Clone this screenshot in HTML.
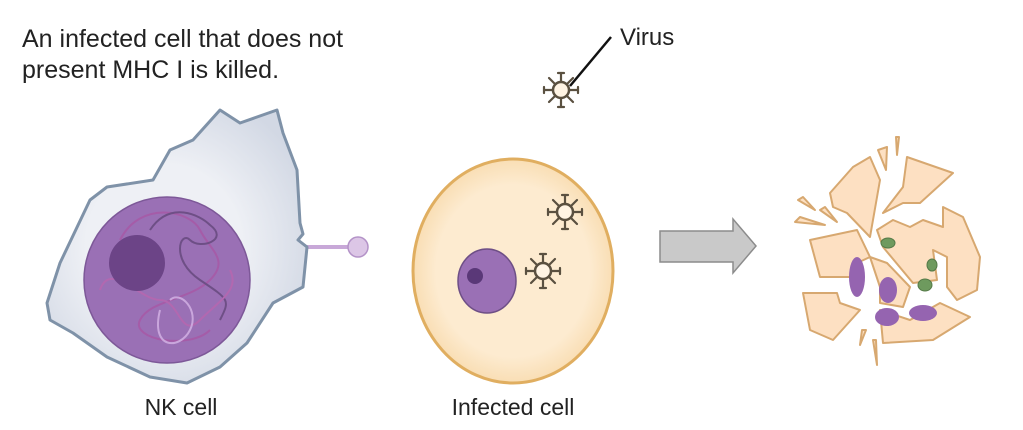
<!DOCTYPE html>
<html><head><style>
html,body{margin:0;padding:0;background:#fff;}
svg{display:block;}
text{font-family:"Liberation Sans",sans-serif;fill:#222;}
</style></head><body>
<svg width="1023" height="430" viewBox="0 0 1023 430" xmlns="http://www.w3.org/2000/svg">
<defs>
<radialGradient id="nkg" cx="0.45" cy="0.5" r="0.6"><stop offset="0.5" stop-color="#eef0f5"/><stop offset="1" stop-color="#d2d8e4"/></radialGradient>
<radialGradient id="icg" cx="0.5" cy="0.5" r="0.55"><stop offset="0.7" stop-color="#fdebd0"/><stop offset="1" stop-color="#f7d8a8"/></radialGradient>
<g id="vir">
<g stroke="#5a5040" stroke-width="2.2" stroke-linecap="round">
<line x1="0" y1="-8" x2="0" y2="-17"/><line x1="0" y1="8" x2="0" y2="17"/>
<line x1="-8" y1="0" x2="-17" y2="0"/><line x1="8" y1="0" x2="17" y2="0"/>
<line x1="6" y1="6" x2="12" y2="12"/><line x1="-6" y1="6" x2="-12" y2="12"/>
<line x1="6" y1="-6" x2="12" y2="-12"/><line x1="-6" y1="-6" x2="-12" y2="-12"/>
<line x1="-3" y1="-17" x2="3" y2="-17"/><line x1="-3" y1="17" x2="3" y2="17"/>
<line x1="-17" y1="-3" x2="-17" y2="3"/><line x1="17" y1="-3" x2="17" y2="3"/>
</g>
<circle r="8" fill="#fff4e4" stroke="#5a5040" stroke-width="2.5"/>
</g>
</defs>

<text x="22" y="47" font-size="25">An infected cell that does not</text>
<text x="22" y="78" font-size="25">present MHC I is killed.</text>

<!-- NK cell -->
<line x1="303" y1="247" x2="352" y2="247" stroke="#c8a8d8" stroke-width="4"/>
<circle cx="358" cy="247" r="10" fill="#dcc6e6" stroke="#b493c8" stroke-width="1.5"/>
<path d="M47,303 L60,263 L90,200 L107,187 L153,180 L170,150 L193,140 L220,110 L240,123 L277,110 L283,133 L297,170 L300,223 L303,234 L298,240 L307,247 L303,287 L273,303 L247,343 L220,367 L187,383 L150,377 L107,357 L73,333 L50,320 Z" fill="url(#nkg)" stroke="#7f92a8" stroke-width="3" stroke-linejoin="round"/>
<circle cx="167" cy="280" r="83" fill="#9a70b5" stroke="#7d5898" stroke-width="1.5"/>
<g fill="none" stroke-width="2">
<path d="M120,240 C140,200 190,210 200,230 S230,260 210,280 S150,300 140,320 S190,350 210,330" stroke="#a55ca8"/>
<path d="M150,230 C170,200 200,215 210,225 C230,240 200,250 190,240 S170,260 200,280 S230,300 220,320" stroke="#6e4f86"/>
<path d="M100,290 C110,260 140,300 160,300 S180,340 200,320 S240,290 230,270" stroke="#b268b0"/>
<path d="M170,300 C180,290 200,310 190,330 S150,350 160,310" stroke="#c9a6dc"/>
</g>
<circle cx="137" cy="263" r="28" fill="#6c4487"/>

<!-- Infected cell -->
<ellipse cx="513" cy="271" rx="100" ry="112" fill="url(#icg)" stroke="#e0ae60" stroke-width="3"/>
<ellipse cx="487" cy="281" rx="29" ry="32" fill="#9a70b5" stroke="#6e4f86" stroke-width="1.5"/>
<circle cx="475" cy="276" r="8" fill="#5a3878"/>
<use href="#vir" x="565" y="212"/>
<use href="#vir" x="543" y="271"/>
<use href="#vir" x="561" y="90"/>
<line x1="570" y1="86" x2="611" y2="37" stroke="#111" stroke-width="2.5"/>
<text x="620" y="45" font-size="24">Virus</text>

<!-- Arrow -->
<path d="M660,231 L733,231 L733,219 L756,246 L733,273 L733,262 L660,262 Z" fill="#c9c9c9" stroke="#8c8c8c" stroke-width="1.5"/>

<!-- Debris -->
<g fill="#fde0c2" stroke="#d7a870" stroke-width="2" stroke-linejoin="round">
<path d="M830,193 L853,167 L870,157 L880,180 L870,237 L847,213 L833,207 Z"/>
<path d="M883,213 L903,187 L907,157 L953,173 L920,203 L903,203 Z"/>
<path d="M877,230 L893,220 L910,227 L923,220 L943,227 L943,207 L963,217 L980,257 L977,290 L957,300 L947,287 L947,257 L933,250 L937,280 L913,283 L883,247 Z"/>
<path d="M810,240 L857,230 L870,257 L857,263 L850,277 L820,277 Z"/>
<path d="M870,257 L887,263 L910,287 L903,307 L880,303 L880,287 Z"/>
<path d="M803,293 L837,293 L840,303 L860,310 L833,340 L810,330 Z"/>
<path d="M880,310 L910,320 L940,303 L970,317 L933,340 L883,343 Z"/>
<path d="M878,150 L887,147 L886,170 Z"/>
<path d="M896,137 L899,137 L897,155 Z"/>
<path d="M798,200 L803,197 L815,210 Z"/>
<path d="M820,210 L825,207 L837,222 Z"/>
<path d="M795,222 L800,217 L825,225 Z"/>
<path d="M862,330 L866,330 L860,345 Z"/>
<path d="M873,340 L876,340 L877,365 Z"/>
</g>
<g fill="#9564b0">
<ellipse cx="857" cy="277" rx="8" ry="20"/>
<ellipse cx="888" cy="290" rx="9" ry="13"/>
<ellipse cx="887" cy="317" rx="12" ry="9"/>
<ellipse cx="923" cy="313" rx="14" ry="8"/>
</g>
<g fill="#6e9a5e" stroke="#557a48" stroke-width="1">
<ellipse cx="888" cy="243" rx="7" ry="5"/>
<ellipse cx="932" cy="265" rx="5" ry="6"/>
<ellipse cx="925" cy="285" rx="7" ry="6"/>
</g>

<text x="181" y="415" font-size="23" text-anchor="middle">NK cell</text>
<text x="513" y="415" font-size="23" text-anchor="middle">Infected cell</text>
</svg>
</body></html>
